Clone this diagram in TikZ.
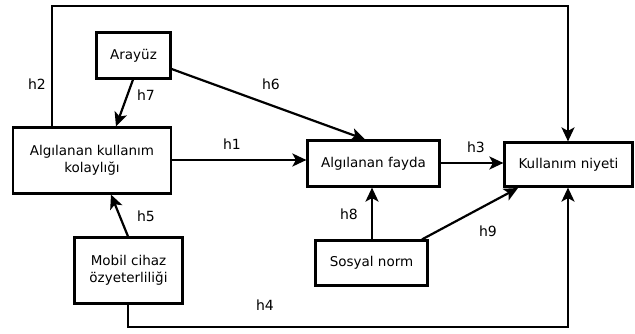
\documentclass[tikz,border=0pt]{standalone}
\usepackage{fontspec}
\setmainfont{DejaVu Sans}
\usetikzlibrary{arrows.meta}
\begin{document}
\begin{tikzpicture}[x=1pt,y=-1pt,
  box/.style={draw,line width=2.2pt,align=center,font=\fontsize{13.5}{17}\selectfont,inner sep=2pt},
  arr/.style={line width=2.2pt,-{Stealth[length=14pt,width=13pt,inset=3.5pt]}},
  lbl/.style={font=\fontsize{14}{16}\selectfont}]
\useasboundingbox (0,0) rectangle (635,334);
\node[box,minimum width=74,minimum height=46] (ara) at (133.5,55.5) {Arayüz};
\node[box,minimum width=158,minimum height=66] (kol) at (92,160.5) {Algılanan kullanım\\kolaylığı};
\node[box,minimum width=132,minimum height=46] (fay) at (373.5,163.5) {Algılanan fayda};
\node[box,minimum width=128,minimum height=44] (niy) at (568.5,164.5) {Kullanım niyeti};
\node[box,minimum width=108,minimum height=66] (mob) at (128.5,270.5) {Mobil cihaz\\özyeterliliği};
\node[box,minimum width=112,minimum height=45] (sos) at (371.5,263) {Sosyal norm};
\coordinate (c2a) at (52,6);
\coordinate (c2b) at (568,6);
\coordinate (c4a) at (128,327);
\coordinate (c4b) at (568,327);
\draw[arr] (kol.north -| c2a) -- (c2a) -- (c2b) -- (niy.north -| c2b);
\draw[arr] (mob.south -| c4a) -- (c4a) -- (c4b) -- (niy.south -| c4b);
\draw[arr] (ara.south -| 133,0) -- (kol.north -| 116,0);
\draw[arr] (ara.east |- 0,69) -- (fay.north -| 365,0);
\draw[arr] (kol.east |- 0,160) -- (fay.west |- 0,160);
\draw[arr] (fay.east |- 0,163) -- (niy.west |- 0,163);
\draw[arr] (mob.north -| 128,0) -- (kol.south -| 111,0);
\draw[arr] (sos.north -| 372,0) -- (fay.south -| 372,0);
\draw[arr] (sos.north -| 422,0) -- (518,188);
\node[lbl] (l1) at (232,144) {h1};
\node[lbl] (l2) at (37,84) {h2};
\node[lbl] (l3) at (476,147) {h3};
\node[lbl] (l4) at (265,305) {h4};
\node[lbl] (l5) at (146,216) {h5};
\node[lbl] (l6) at (271,84) {h6};
\node[lbl] (l7) at (146,95) {h7};
\node[lbl] (l8) at (349,214) {h8};
\node[lbl] (l9) at (488,231) {h9};
\end{tikzpicture}
\end{document}
